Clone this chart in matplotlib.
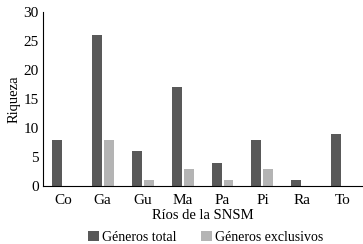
import numpy as np
import matplotlib
matplotlib.use("Agg")
import matplotlib.pyplot as plt
from matplotlib.font_manager import FontProperties

plt.rcParams['font.family'] = ['Liberation Serif', 'DejaVu Serif']

# data
rios = ['Co', 'Ga', 'Gu', 'Ma', 'Pa', 'Pi', 'Ra', 'To']
generos_total = [8, 26, 6, 17, 4, 8, 1, 9]
generos_exclusivos = [0, 8, 1, 3, 1, 3, 0, 0]

fig = plt.figure(figsize=(3.63, 2.44), dpi=100)
ax = fig.add_axes([0.118, 0.238, 0.88, 0.713])

x = np.arange(len(rios))
w = 0.25
ax.bar(x - 0.15, generos_total, w, color='#595959', label='Géneros total')
ax.bar(x + 0.15, generos_exclusivos, w, color='#b4b4b4', label='Géneros exclusivos')

ax.set_xlim(-0.5, len(rios) - 0.5)
ax.set_ylim(0, 30)
ax.set_yticks(range(0, 31, 5))
ax.set_xticks(x)
ax.set_xticklabels(rios)
ax.tick_params(length=0, labelsize=11, pad=3)
ax.tick_params(axis='x', pad=6)
for s in ['top', 'right']:
    ax.spines[s].set_visible(False)

ax.set_xlabel('Ríos de la SNSM', fontsize=10.5, labelpad=1)
ax.set_ylabel('Riqueza', fontsize=10.5, labelpad=2)

fp = FontProperties(family='Liberation Serif', size=10)
fig.legend(loc='lower center', bbox_to_anchor=(0.566, -0.05), ncol=2, frameon=False,
           prop=fp, handlelength=0.8, handleheight=0.8, handletextpad=0.2,
           columnspacing=1.8)

fig.savefig('out.png', dpi=100)
